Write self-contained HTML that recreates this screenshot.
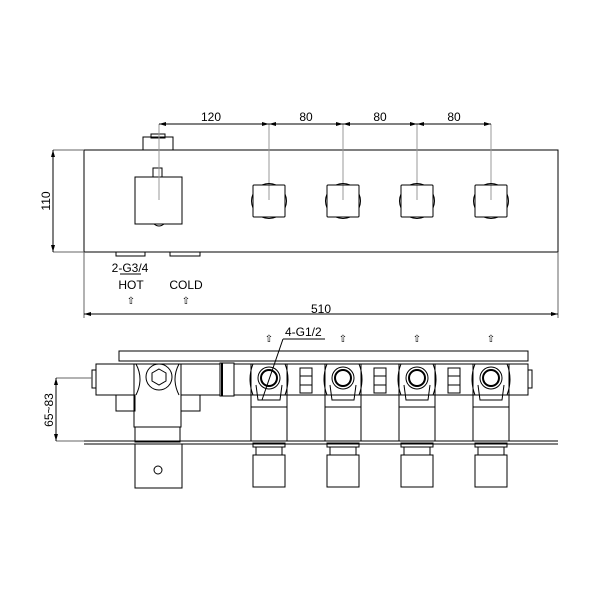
<html><body style="margin:0;background:#fff">
<svg width="600" height="600" viewBox="0 0 600 600" xmlns="http://www.w3.org/2000/svg" font-family="Liberation Sans, sans-serif" font-size="12" fill="none" stroke="#000" stroke-width="1">
<!-- TOP VIEW -->
<rect x="84" y="150" width="474" height="102"/>
<rect x="143" y="137" width="30" height="13"/>
<rect x="151" y="134" width="14" height="4"/>
<rect x="135" y="177" width="47" height="47"/>
<rect x="153" y="168" width="9" height="9"/>
<path d="M154 224 q5 4 10 0"/>
<g stroke="#999">
<line x1="159" y1="124" x2="159" y2="200"/>
<line x1="269" y1="124" x2="269" y2="200"/>
<line x1="343" y1="124" x2="343" y2="200"/>
<line x1="417" y1="124" x2="417" y2="200"/>
<line x1="491" y1="124" x2="491" y2="200"/>
</g>
<g id="k">
<rect x="253" y="185" width="32" height="32" rx="1"/>
<path d="M253 194 q-3 7 0 14 M285 194 q3 7 0 14 M262 185 q7 -3 14 0 M262 217 q7 3 14 0"/>
</g>
<use href="#k" x="74"/><use href="#k" x="148"/><use href="#k" x="222"/>
<line x1="159" y1="124" x2="491" y2="124"/>
<g fill="#000" stroke="none">
<path d="M159 124 l7 -2 v4z"/><path d="M269 124 l-7 -2 v4z"/><path d="M269 124 l7 -2 v4z"/>
<path d="M343 124 l-7 -2 v4z"/><path d="M343 124 l7 -2 v4z"/><path d="M417 124 l-7 -2 v4z"/><path d="M417 124 l7 -2 v4z"/><path d="M491 124 l-7 -2 v4z"/>
<text x="211" y="121" text-anchor="middle">120</text>
<text x="306" y="121" text-anchor="middle">80</text>
<text x="380" y="121" text-anchor="middle">80</text>
<text x="454" y="121" text-anchor="middle">80</text>
<text x="321" y="313" text-anchor="middle">510</text>
<text x="130" y="272" text-anchor="middle">2-G3/4</text>
<text x="131" y="289" text-anchor="middle">HOT</text>
<text x="186" y="289" text-anchor="middle">COLD</text>
<text x="131" y="304" text-anchor="middle" font-size="10">⇧</text>
<text x="186" y="304" text-anchor="middle" font-size="10">⇧</text>
<text transform="translate(50 201) rotate(-90)" text-anchor="middle">110</text>
<path d="M53 150 l-2 7 h4z"/><path d="M53 252 l-2 -7 h4z"/>
<path d="M84 314 l7 -2 v4z"/><path d="M558 314 l-7 -2 v4z"/>
</g>
<line x1="53" y1="150" x2="84" y2="150" stroke="#666"/>
<line x1="53" y1="252" x2="84" y2="252" stroke="#666"/>
<line x1="53" y1="150" x2="53" y2="252"/>
<line x1="84" y1="252" x2="84" y2="318" stroke="#666"/>
<line x1="558" y1="252" x2="558" y2="318" stroke="#666"/>
<line x1="84" y1="314" x2="558" y2="314"/>
<rect x="116" y="252" width="29" height="4"/>
<rect x="170" y="252" width="30" height="4"/>
<line x1="120" y1="274" x2="141" y2="274"/>
<!-- SIDE VIEW -->
<rect x="119" y="351" width="409" height="10"/>
<rect x="96" y="364" width="124" height="31"/>
<rect x="92" y="370" width="4" height="18"/>
<rect x="134" y="364" width="47" height="63" fill="#fff"/>
<path d="M136 364 q8 15 0 31 M179 364 q-8 15 0 31"/>
<circle cx="159" cy="377" r="13"/>
<path d="M159 369 l7 4 v8 l-7 4 l-7 -4 v-8z"/>
<rect x="116" y="395" width="19" height="16"/>
<rect x="181" y="395" width="19" height="16"/>
<rect x="135" y="427" width="45" height="15"/>
<rect x="220" y="363" width="14" height="33"/>
<line x1="222" y1="363" x2="222" y2="396" stroke-width="2"/>
<rect x="234" y="364" width="294" height="31"/>
<rect x="528" y="370" width="4" height="18"/>
<g id="v">
<rect x="251" y="364" width="36" height="31" fill="#fff"/>
<path d="M253 364 q-6 15 0 31 M285 364 q6 15 0 31"/>
<circle cx="269" cy="378" r="11"/><circle cx="269" cy="378" r="8" stroke-width="2"/>
<path d="M256 385 l2 15 h22 l2 -15"/>
<rect x="251" y="395" width="36" height="12"/>
<rect x="251" y="407" width="36" height="34"/>
<rect x="253" y="443" width="32" height="4"/>
<rect x="256" y="447" width="26" height="8"/>
<rect x="253" y="455" width="32" height="32"/>
<text x="269" y="342" fill="#000" stroke="none" font-size="10" text-anchor="middle">⇧</text>
</g>
<use href="#v" x="74"/><use href="#v" x="148"/><use href="#v" x="222"/>
<g id="n"><rect x="300" y="368" width="12" height="25"/><line x1="300" y1="376" x2="312" y2="376"/><line x1="300" y1="385" x2="312" y2="385"/></g>
<use href="#n" x="74"/><use href="#n" x="148"/>
<line x1="84" y1="441" x2="558" y2="441"/>
<line x1="84" y1="444" x2="558" y2="444"/>
<rect x="135" y="444" width="47" height="44" fill="#fff"/>
<circle cx="158" cy="470" r="4"/>
<line x1="325" y1="339" x2="283" y2="339"/>
<line x1="283" y1="339" x2="262" y2="400"/>
<text x="285" y="336" fill="#000" stroke="none">4-G1/2</text>
<line x1="56" y1="378" x2="92" y2="378" stroke="#666"/>
<line x1="56" y1="441" x2="84" y2="441" stroke="#666"/>
<line x1="56" y1="378" x2="56" y2="441"/>
<g fill="#000" stroke="none">
<path d="M56 378 l-2 7 h4z"/><path d="M56 441 l-2 -7 h4z"/>
<text transform="translate(53 410) rotate(-90)" text-anchor="middle">65~83</text>
</g>
</svg>
</body></html>
